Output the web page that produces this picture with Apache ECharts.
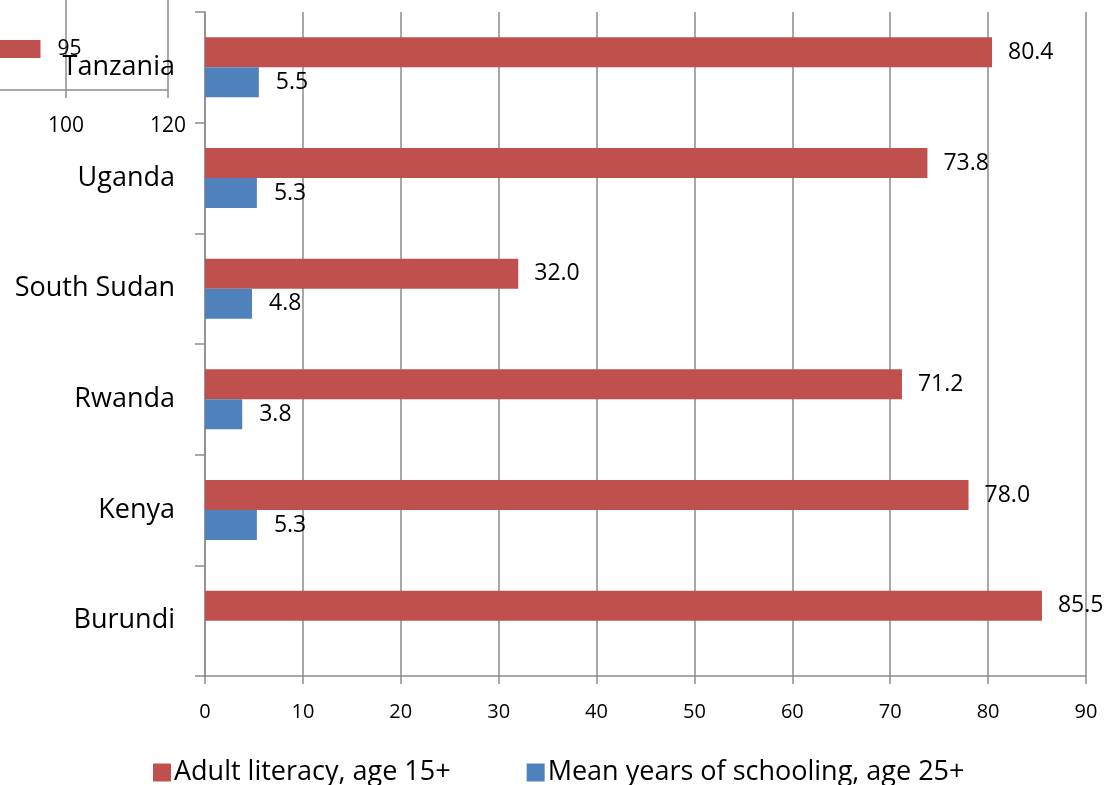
<!DOCTYPE html>
<html>
<head>
<meta charset="utf-8">
<script src="https://cdn.jsdelivr.net/npm/echarts@6/dist/echarts.min.js"></script>
<style>
  html, body { margin: 0; padding: 0; background: #fff; }
  #chart { width: 1107px; height: 785px; }
</style>
</head>
<body>
<div id="chart"></div>
<script>
// Countries, listed bottom to top along the category axis
const countries = ['Burundi', 'Kenya', 'Rwanda', 'South Sudan', 'Uganda', 'Tanzania'];
// Adult literacy rate (%), age 15+
const literacy = [85.5, 78.0, 71.2, 32.0, 73.8, 80.4];
// Mean years of schooling, age 25+ (no figure for Burundi)
const schooling = [null, 5.3, 3.8, 4.8, 5.3, 5.5];
// Value axis ticks
const xTicks = [0, 10, 20, 30, 40, 50, 60, 70, 80, 90];

// Small overlapping panel in the top-left corner
const insetCategories = ['', ''];
const insetValues = [95, null];
const insetTicks = [80, 100, 120];

const FONT = '"Open Sans", sans-serif';
const GRID_GRAY = '#8c8c8c';
const RED = '#C0504D';
const BLUE = '#4F81BD';

const chart = echarts.init(document.getElementById('chart'));

chart.setOption({
  animation: false,
  textStyle: { fontFamily: FONT, color: '#000' },
  legend: {
    bottom: -6,
    left: 148,
    icon: 'rect',
    itemWidth: 18,
    itemHeight: 18,
    itemGap: 76,
    data: ['Adult literacy, age 15+', 'Mean years of schooling, age 25+'],
    textStyle: { fontFamily: FONT, fontSize: 27, color: '#000', padding: [0, 0, 0, -2] }
  },
  grid: [
    { left: 205, top: 12, width: 881, height: 664, containLabel: false, outerBoundsMode: 'none' },
    { left: -36, top: -74, width: 204, height: 164, containLabel: false, outerBoundsMode: 'none' }
  ],
  xAxis: [
    {
      gridIndex: 0,
      type: 'value',
      min: xTicks[0],
      max: xTicks[xTicks.length - 1],
      interval: xTicks[1] - xTicks[0],
      axisLine: { show: true, lineStyle: { color: GRID_GRAY, width: 1.5 } },
      axisTick: { show: true, length: 8, lineStyle: { color: GRID_GRAY, width: 1.5 } },
      splitLine: { show: true, lineStyle: { color: GRID_GRAY, width: 1.5 } },
      axisLabel: { fontFamily: FONT, fontSize: 20, color: '#000', margin: 26 }
    },
    {
      gridIndex: 1,
      type: 'value',
      min: insetTicks[0],
      max: insetTicks[insetTicks.length - 1],
      interval: insetTicks[1] - insetTicks[0],
      axisLine: { show: true, lineStyle: { color: GRID_GRAY, width: 1.5 } },
      axisTick: { show: true, length: 8, lineStyle: { color: GRID_GRAY, width: 1.5 } },
      splitLine: { show: true, lineStyle: { color: GRID_GRAY, width: 1.5 } },
      axisLabel: { fontFamily: FONT, fontSize: 21, color: '#000', margin: 26 }
    }
  ],
  yAxis: [
    {
      gridIndex: 0,
      type: 'category',
      data: countries,
      axisLine: { show: true, lineStyle: { color: GRID_GRAY, width: 1.5 } },
      axisTick: { show: true, length: 10, lineStyle: { color: GRID_GRAY, width: 1.5 } },
      splitLine: { show: false },
      axisLabel: { fontFamily: FONT, fontSize: 27, color: '#000', margin: 30 }
    },
    {
      gridIndex: 1,
      type: 'category',
      data: insetCategories,
      show: false
    }
  ],
  series: [
    {
      name: 'Adult literacy, age 15+',
      type: 'bar',
      xAxisIndex: 0,
      yAxisIndex: 0,
      data: literacy,
      barWidth: 30,
      barGap: '0%',
      itemStyle: { color: RED },
      label: {
        show: true,
        position: 'right',
        distance: 16,
        fontFamily: FONT,
        fontSize: 23,
        color: '#000',
        formatter: p => p.value.toFixed(1)
      }
    },
    {
      name: 'Mean years of schooling, age 25+',
      type: 'bar',
      xAxisIndex: 0,
      yAxisIndex: 0,
      data: schooling,
      barWidth: 30,
      barGap: '0%',
      itemStyle: { color: BLUE },
      label: {
        show: true,
        position: 'right',
        distance: 17,
        fontFamily: FONT,
        fontSize: 23,
        color: '#000',
        formatter: p => p.value.toFixed(1)
      }
    },
    {
      name: 'inset',
      type: 'bar',
      xAxisIndex: 1,
      yAxisIndex: 1,
      data: insetValues,
      barWidth: 18,
      itemStyle: { color: RED },
      label: {
        show: true,
        position: 'right',
        distance: 17,
        fontFamily: FONT,
        fontSize: 21,
        color: '#000'
      }
    }
  ]
});
</script>
</body>
</html>
